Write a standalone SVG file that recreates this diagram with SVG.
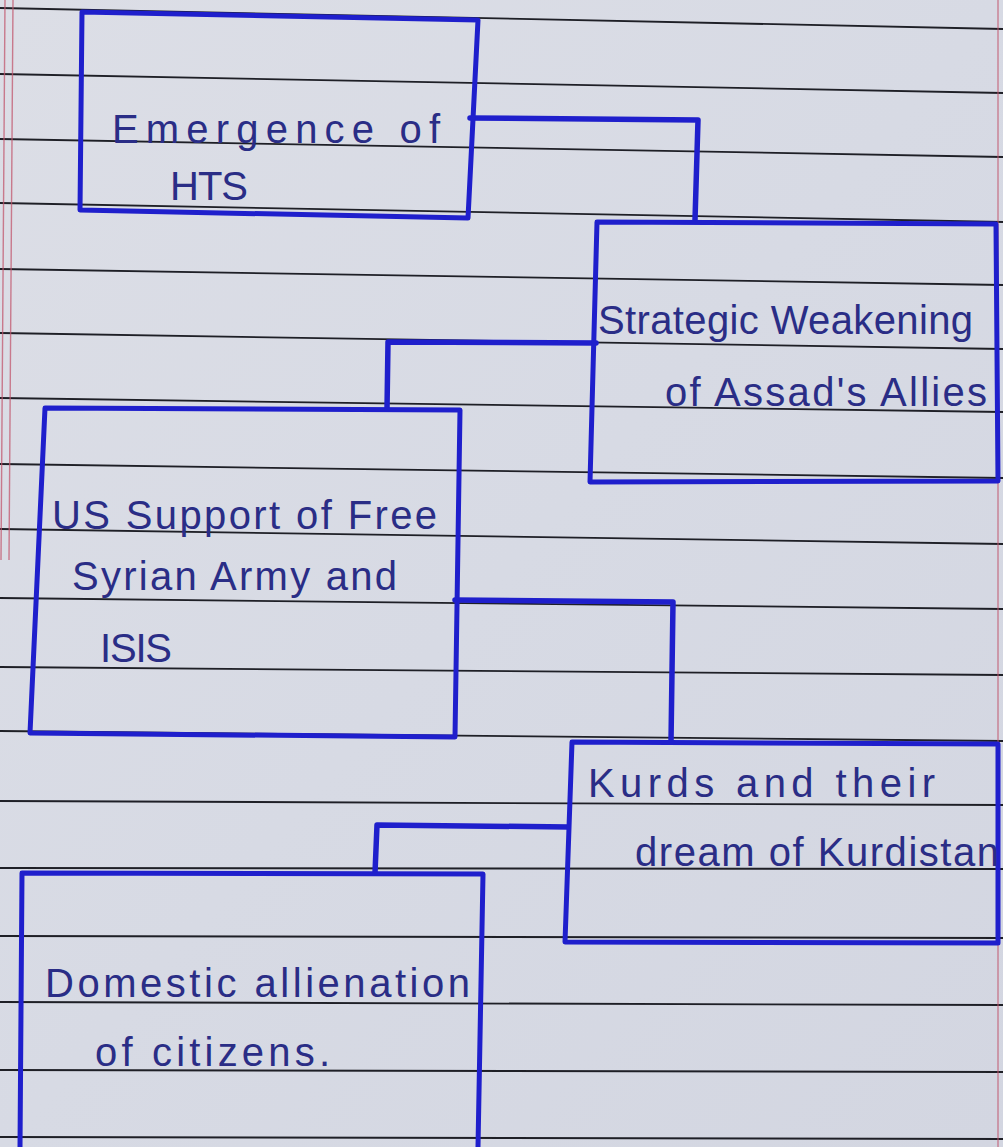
<svg xmlns="http://www.w3.org/2000/svg" width="1003" height="1147" viewBox="0 0 1003 1147">
  <defs>
    <linearGradient id="paper" x1="0" y1="0" x2="1" y2="1">
      <stop offset="0" stop-color="#dcdee6"/>
      <stop offset="0.5" stop-color="#d7dae4"/>
      <stop offset="1" stop-color="#d3d6e1"/>
    </linearGradient>
  </defs>
  <style>
    .rule { stroke: #1e1f26; stroke-width: 1.8; fill: none; }
    .margin { stroke: #c2576e; stroke-width: 1.4; fill: none; }
    .box { stroke: #1f1fcc; stroke-width: 5; fill: none; stroke-linejoin: round; stroke-linecap: round; }
    .conn { stroke: #1f1fcc; stroke-width: 5.5; fill: none; stroke-linejoin: round; stroke-linecap: round; }
    .hand { font-family: "Liberation Sans", "DejaVu Sans", sans-serif; font-size: 40px; fill: #2a2d86; }
  </style>

  <rect x="0" y="0" width="1003" height="1147" fill="url(#paper)"/>

  <g id="paper-lines">
    <path class="rule" d="M0,8 L1003,29 M0,74 L1003,93 M0,139 L1003,157 M0,203 L1003,222 M0,269 L1003,285 M0,333 L1003,349 M0,398 L1003,412 M0,464 L1003,478 M0,529 L1003,544 M0,598 L1003,609 M0,667 L1003,675 M0,731 L1003,741 M0,801 L1003,805 M0,868 L1003,869 M0,936 L1003,938 M0,1002 L1003,1005 M0,1070 L1003,1072 M0,1137 L1003,1139"/>
    <path class="margin" d="M5,0 L1,560 M13,0 L9,560" opacity="0.75"/>
    <path class="margin" d="M998,0 L998,1147" opacity="0.7"/>
  </g>

  <g id="connectors">
    <path class="conn" d="M470,118 L698,120 L695,220"/>
    <path class="conn" d="M596,343 L388,342 L387,409"/>
    <path class="conn" d="M455,600 L673,602 L671,742"/>
    <path class="conn" d="M568,827 L377,825 L375,873"/>
  </g>

  <g id="node-hts">
    <path class="box" d="M82,12 L478,20 L468,218 L80,210 Z"/>
    <text class="hand" x="112" y="143" textLength="328" lengthAdjust="spacing">Emergence of</text>
    <text class="hand" x="170" y="200" textLength="78" lengthAdjust="spacing">HTS</text>
  </g>

  <g id="node-assad">
    <path class="box" d="M597,222 L996,224 L998,481 L590,482 Z"/>
    <text class="hand" x="598" y="334" textLength="375" lengthAdjust="spacing">Strategic Weakening</text>
    <text class="hand" x="665" y="406" textLength="322" lengthAdjust="spacing">of Assad's Allies</text>
  </g>

  <g id="node-us">
    <path class="box" d="M45,408 L460,410 L455,737 L30,733 Z"/>
    <text class="hand" x="52" y="529" textLength="385" lengthAdjust="spacing">US Support of Free</text>
    <text class="hand" x="72" y="590" textLength="325" lengthAdjust="spacing">Syrian Army and</text>
    <text class="hand" x="100" y="662" textLength="72" lengthAdjust="spacing">ISIS</text>
  </g>

  <g id="node-kurds">
    <path class="box" d="M572,742 L998,744 L998,943 L565,942 Z"/>
    <text class="hand" x="588" y="797" textLength="347" lengthAdjust="spacing">Kurds and their</text>
    <text class="hand" x="635" y="866" textLength="364" lengthAdjust="spacing">dream of Kurdistan</text>
  </g>

  <g id="node-domestic">
    <path class="box" d="M20,1147 L22,873 L483,874 L478,1147"/>
    <text class="hand" x="45" y="997" textLength="425" lengthAdjust="spacing">Domestic allienation</text>
    <text class="hand" x="95" y="1066" textLength="235" lengthAdjust="spacing">of citizens.</text>
  </g>
</svg>
